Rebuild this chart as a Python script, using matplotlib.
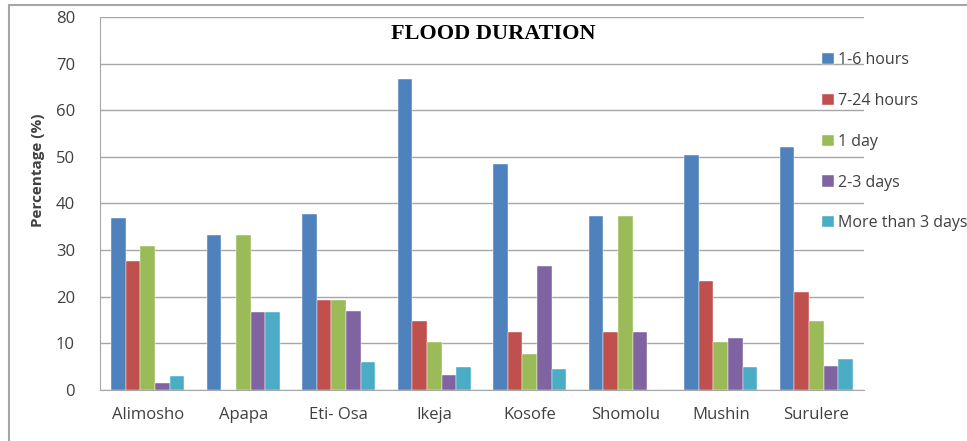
import matplotlib.pyplot as plt
import matplotlib.patches as patches
import numpy as np

# Flood duration survey, percentage of respondents per LGA
lgas = ["Alimosho", "Apapa", "Eti- Osa", "Ikeja", "Kosofe", "Shomolu", "Mushin", "Surulere"]
series_names = ["1-6 hours", "7-24 hours", "1 day", "2-3 days", "More than 3 days"]
hours_1_6 = [36.8, 33.3, 37.7, 66.7, 48.4, 37.3, 50.5, 52.1]
hours_7_24 = [27.7, 0.0, 19.3, 14.9, 12.4, 12.4, 23.4, 21.1]
one_day = [30.8, 33.3, 19.3, 10.2, 7.7, 37.3, 10.2, 14.7]
days_2_3 = [1.4, 16.7, 17.0, 3.2, 26.5, 12.4, 11.2, 5.2]
more_than_3 = [3.0, 16.7, 6.0, 5.0, 4.6, 0.0, 4.9, 6.6]
yticks = [0, 10, 20, 30, 40, 50, 60, 70, 80]

colors = ["#4F81BD", "#C0504D", "#9BBB59", "#8064A2", "#4BACC6"]
series = [hours_1_6, hours_7_24, one_day, days_2_3, more_than_3]

plt.rcParams['font.family'] = ['Open Sans', 'DejaVu Sans']

fig = plt.figure(figsize=(9.67, 4.41), dpi=100)
ax = fig.add_axes([100 / 967, 51 / 441, 764 / 967, 373 / 441])

# outer chart frame
fig.patches.append(patches.Rectangle((9 / 967, -0.1), 1.1, (436 / 441) + 0.1,
                                     transform=fig.transFigure, fill=False,
                                     edgecolor="#a6a6a6", linewidth=1.5))

x = np.arange(len(lgas))
w = 0.153
for i, (vals, c) in enumerate(zip(series, colors)):
    ax.bar(x + (i - 2) * w, vals, w, color=c, edgecolor="white", linewidth=0.3,
           label=series_names[i], zorder=3)

ax.set_xlim(-0.5, len(lgas) - 0.5)
ax.set_ylim(0, 80)
ax.set_yticks(yticks)
ax.set_xticks(x)
ax.set_xticklabels(lgas, fontsize=12, color="#404040")
ax.tick_params(axis="y", labelsize=12, labelcolor="#404040", length=0, pad=18)
ax.tick_params(axis="x", length=0, pad=12)
ax.grid(axis="y", color="#a6a6a6", linewidth=1, zorder=0)
for s in ["top", "right"]:
    ax.spines[s].set_visible(False)
ax.spines["left"].set_color("#a6a6a6")
ax.spines["bottom"].set_color("#a6a6a6")

ax.text(0.515, 0.954, "FLOOD DURATION", transform=ax.transAxes, ha="center", va="center",
        fontsize=16, fontweight="bold", family="Liberation Serif")
fig.text(38 / 967, 1 - 170 / 441, "Percentage (%)", rotation=90, ha="center", va="center",
         fontsize=11, fontweight="bold", color="#404040")

leg = ax.legend(loc="upper left", bbox_to_anchor=(816 / 967, 1 - 46 / 441),
                bbox_transform=fig.transFigure, frameon=False, fontsize=11.5,
                handlelength=0.7, handleheight=0.7, handletextpad=0.3,
                labelspacing=1.55, borderaxespad=0)
for t in leg.get_texts():
    t.set_color("#404040")

fig.savefig("out.png", dpi=100)
